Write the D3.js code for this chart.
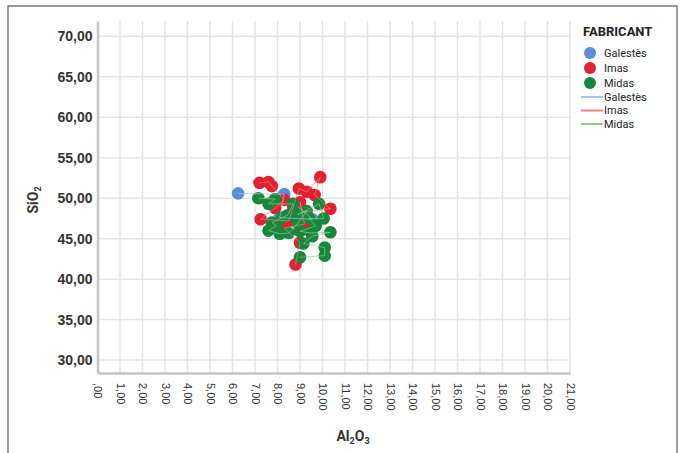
<!DOCTYPE html>
<html>
<head>
<meta charset="utf-8">
<script src="https://cdn.jsdelivr.net/npm/d3@7"></script>
<style>
  html, body { margin: 0; padding: 0; background: #fff; }
  svg { display: block; font-family: 'Liberation Sans Narrow', 'Roboto', 'DejaVu Sans', sans-serif; }
</style>
</head>
<body>
<svg id="chart" width="680" height="453"></svg>
<script>
// Al2O3 (x) / SiO2 (y) measurements per manufacturer, in data order
const galestes = [[6.25, 50.6], [8.3, 50.5], [8.1, 47.6], [9.55, 47.4], [8.9, 49.0]];
const imas = [
  [7.2, 51.9], [7.6, 52.0], [7.75, 51.5], [8.3, 49.8], [7.9, 48.8], [7.25, 47.4],
  [8.5, 47.2], [8.7, 48.9], [8.95, 51.2], [9.3, 50.8], [9.9, 52.6], [9.65, 50.4],
  [10.35, 48.7], [9.1, 48.3], [9.0, 49.5], [9.2, 46.8], [8.3, 46.3], [9.0, 44.5], [8.8, 41.8]
];
const midas = [
  [7.15, 50.0], [7.9, 49.9], [7.6, 49.3], [8.7, 49.3], [8.45, 47.9], [8.2, 47.6],
  [7.75, 47.0], [7.95, 46.6], [7.6, 46.0], [8.1, 45.6], [8.5, 45.7], [8.9, 46.9],
  [9.3, 48.4], [8.9, 48.0], [9.85, 49.3], [10.05, 47.5], [9.4, 47.5], [9.7, 46.6],
  [9.0, 45.9], [9.5, 45.7], [10.35, 45.8], [9.55, 45.3], [9.15, 44.4], [10.1, 43.9],
  [10.1, 42.9], [9.0, 42.7]
];
const seriesNames = ["Galestès", "Imas", "Midas"];
const seriesData = [galestes, imas, midas];
const markerColors = ["#5a8fd6", "#e2202f", "#16873b"];
const lineColors = ["#a9c6ec", "#f08585", "#8fcf8f"];
const xTicks = d3.range(0, 22, 1);
const yTicks = d3.range(30, 75, 5);
const legendTitle = "FABRICANT";

const fmt = v => (v === 0 ? ",00" : v.toFixed(2).replace(".", ","));

const svg = d3.select("#chart");

// outer frame
svg.append("rect")
  .attr("x", 8).attr("y", 6).attr("width", 669).attr("height", 460)
  .attr("fill", "none").attr("stroke", "#666").attr("stroke-width", 1.3);

const x = d3.scaleLinear().domain([0, 21]).range([97.5, 570]);
const y = d3.scaleLinear().domain([28.4, 71.9]).range([373, 21]);

// grid
const grid = svg.append("g");
grid.selectAll("line.v").data(xTicks.filter(d => d > 0)).join("line")
  .attr("x1", d => x(d)).attr("x2", d => x(d))
  .attr("y1", y.range()[1]).attr("y2", y.range()[0])
  .attr("stroke", "#e4e4e4").attr("stroke-width", 1.5);
grid.selectAll("line.h").data(yTicks).join("line")
  .attr("x1", x(0)).attr("x2", x(21))
  .attr("y1", d => y(d)).attr("y2", d => y(d))
  .attr("stroke", "#e4e4e4").attr("stroke-width", 1.5);

// axes
const yAxis = d3.axisLeft(y).tickValues(yTicks).tickFormat(fmt).tickSize(0).tickPadding(5);
const yg = svg.append("g").attr("transform", `translate(${x(0)},0)`).call(yAxis);
yg.select(".domain").attr("stroke", "#c4c4c4").attr("stroke-width", 2.5);
yg.selectAll("text").attr("font-size", 14).attr("font-weight", "bold").attr("fill", "#333");

const xAxis = d3.axisBottom(x).tickValues(xTicks).tickFormat(fmt).tickSize(0);
const xg = svg.append("g").attr("transform", `translate(0,${y.range()[0]})`).call(xAxis);
xg.select(".domain").attr("stroke", "#c4c4c4").attr("stroke-width", 2.5);
xg.selectAll("text")
  .attr("font-size", 11).attr("fill", "#333")
  .attr("text-anchor", "start")
  .attr("transform", "rotate(90)")
  .attr("x", 10).attr("y", 0).attr("dy", "0.35em");

// axis titles
const xt = svg.append("text").attr("x", 353).attr("y", 441)
  .attr("text-anchor", "middle").attr("font-size", 14).attr("font-weight", "bold").attr("fill", "#333");
xt.append("tspan").text("Al");
xt.append("tspan").text("2").attr("font-size", 9).attr("dy", 3);
xt.append("tspan").text("O").attr("dy", -3);
xt.append("tspan").text("3").attr("font-size", 9).attr("dy", 3);

const yt = svg.append("text").attr("transform", "translate(38,200) rotate(-90)")
  .attr("text-anchor", "middle").attr("font-size", 14).attr("font-weight", "bold").attr("fill", "#333");
yt.append("tspan").text("SiO");
yt.append("tspan").text("2").attr("font-size", 9).attr("dy", 3);

// points then connecting lines per series
const plot = svg.append("g");
seriesData.forEach((data, i) => {
  plot.append("g").selectAll("circle").data(data).join("circle")
    .attr("cx", d => x(d[0])).attr("cy", d => y(d[1])).attr("r", 6.3)
    .attr("fill", markerColors[i]);
});
const line = d3.line().x(d => x(d[0])).y(d => y(d[1]));
seriesData.forEach((data, i) => {
  plot.append("path").attr("d", line(data))
    .attr("fill", "none").attr("stroke", lineColors[i]).attr("stroke-width", 0.9).attr("opacity", 0.75);
});

// legend
const lg = svg.append("g");
lg.append("text").attr("x", 583).attr("y", 36).text(legendTitle)
  .attr("font-size", 13).attr("font-weight", "bold").attr("fill", "#222");
seriesNames.forEach((name, i) => {
  const cy = 53 + i * 15;
  lg.append("circle").attr("cx", 590).attr("cy", cy).attr("r", 6).attr("fill", markerColors[i]);
  lg.append("text").attr("x", 604).attr("y", cy).attr("dy", "0.35em").text(name)
    .attr("font-size", 11).attr("fill", "#222");
});
seriesNames.forEach((name, i) => {
  const ly = 97 + i * 13.5;
  lg.append("line").attr("x1", 581).attr("x2", 603).attr("y1", ly).attr("y2", ly)
    .attr("stroke", lineColors[i]).attr("stroke-width", 2);
  lg.append("text").attr("x", 604).attr("y", ly).attr("dy", "0.35em").text(name)
    .attr("font-size", 11).attr("fill", "#222");
});
</script>
</body>
</html>
